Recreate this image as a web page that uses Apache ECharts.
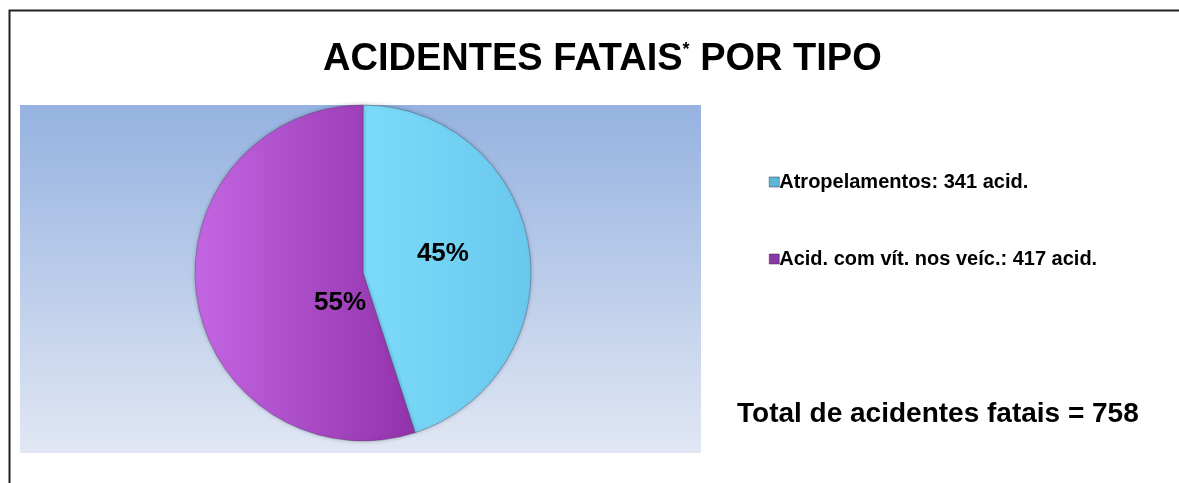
<!DOCTYPE html>
<html>
<head>
<meta charset="utf-8">
<title>Acidentes fatais por tipo</title>
<script src="https://cdn.jsdelivr.net/npm/echarts@6/dist/echarts.min.js"></script>
<style>
  html, body { margin: 0; padding: 0; background: #fff; }
  #chart { width: 1179px; height: 483px; }
</style>
</head>
<body>
<div id="chart"></div>
<script>
// dados
var categorias = ['Atropelamentos', 'Acid. com vít. nos veíc.']
var valores = [341, 417]
var total = 758

var myChart = echarts.init(document.getElementById('chart'))

var cores = [
  new echarts.graphic.LinearGradient(0, 0, 1, 0, [
    { offset: 0, color: '#7cdaf9' },
    { offset: 1, color: '#6ac8ee' }
  ]),
  new echarts.graphic.LinearGradient(0, 0, 1, 0, [
    { offset: 0, color: '#c466e2' },
    { offset: 1, color: '#9232ac' }
  ])
]
var coresLegenda = ['#5bb8d8', '#8a3aa6']
var fonte = '"Liberation Sans", Arial, sans-serif'

var option = {
  animation: false,
  graphic: [
    {
      // moldura
      type: 'rect',
      shape: { x: 9.5, y: 10.5, width: 1200, height: 520 },
      style: { fill: '#fff', stroke: '#222', lineWidth: 2 },
      z: -10
    },
    {
      // fundo da área do gráfico
      type: 'rect',
      shape: { x: 20, y: 105, width: 681, height: 348 },
      style: {
        fill: new echarts.graphic.LinearGradient(0, 0, 0, 1, [
          { offset: 0, color: '#95b2e0' },
          { offset: 1, color: '#e1e7f4' }
        ])
      },
      z: -9
    },
    {
      type: 'text',
      left: 737,
      top: 400,
      style: {
        text: 'Total de acidentes fatais = ' + total,
        font: 'bold 28px ' + fonte,
        fill: '#000'
      }
    }
  ],
  title: {
    text: 'ACIDENTES FATAIS{s|*} POR TIPO',
    left: 318,
    top: 36,
    textStyle: {
      fontFamily: fonte,
      fontSize: 38,
      fontWeight: 'bold',
      color: '#000',
      rich: {
        s: { fontFamily: fonte, fontSize: 18, fontWeight: 'bold', verticalAlign: 'top', padding: [0, 0, 18, 0], color: '#000' }
      }
    }
  },
  legend: {
    orient: 'vertical',
    left: 764,
    top: 167,
    itemGap: 57,
    itemWidth: 10,
    itemHeight: 10,
    icon: 'rect',
    data: categorias.map(function (c, i) {
      return { name: c, itemStyle: { color: coresLegenda[i], borderColor: '#333', borderWidth: 0.5 } }
    }),
    formatter: function (name) {
      var i = categorias.indexOf(name)
      return name + ': ' + valores[i] + ' acid.'
    },
    textStyle: {
      fontFamily: fonte,
      fontSize: 20,
      fontWeight: 'bold',
      color: '#000',
      padding: [0, 0, 0, -5]
    }
  },
  series: [
    {
      type: 'pie',
      center: [363, 273],
      radius: 168,
      startAngle: 90,
      clockwise: true,
      legendHoverLink: false,
      label: {
        show: true,
        position: 'inside',
        formatter: '{d}%',
        fontFamily: fonte,
        fontSize: 26,
        fontWeight: 'bold',
        color: '#000'
      },
      labelLine: { show: false },
      itemStyle: {
        borderColor: 'rgba(60,60,90,0.35)',
        borderWidth: 1,
        shadowBlur: 4,
        shadowColor: 'rgba(0,0,0,0.25)'
      },
      percentPrecision: 0,
      data: categorias.map(function (c, i) {
        var d = { name: c, value: valores[i], itemStyle: { color: cores[i] } }
        if (i === 0) d.label = { offset: [-6, -6] }
        else d.label = { offset: [63, 16] }
        return d
      })
    }
  ]
}

myChart.setOption(option)
</script>
</body>
</html>
